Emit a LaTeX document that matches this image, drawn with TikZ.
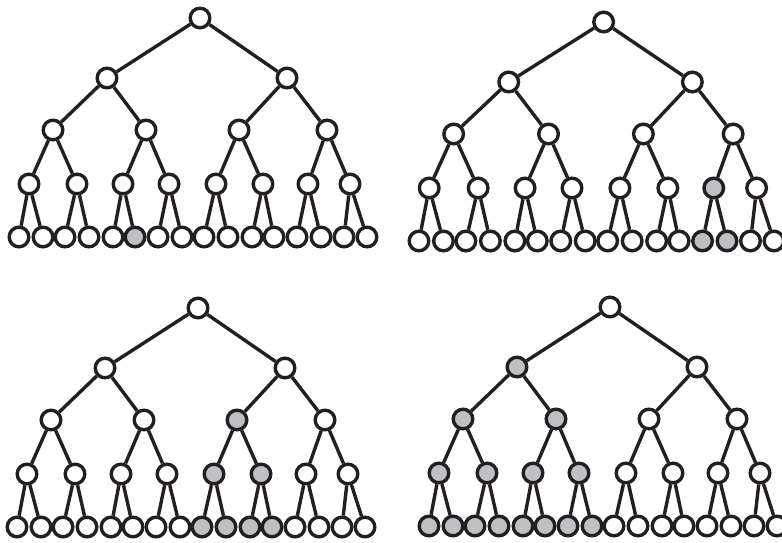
\documentclass[tikz,border=0pt]{standalone}
\definecolor{inkblack}{RGB}{35,31,32}
\definecolor{hitgray}{RGB}{190,192,196}
\usepackage{tikz}

\tikzset{
  vtx/.style={circle, draw=inkblack, fill=white, line width=3.4pt, minimum size=19.6pt, inner sep=0pt},
  edge/.style={draw=inkblack, line width=3.4pt},
  hits/.code={\foreach \h in {#1}{\expandafter\gdef\csname hit@\h\endcsname{}}},
  paint/.code={\ifcsname hit@#1\endcsname\pgfkeysalso{fill=hitgray}\fi},
}

% one binary tree, depth 4: #1 name, #2 scope options
\newcommand{\bintree}[2]{%
  \begin{scope}[#2]
    \node[vtx, paint=#1-0-0] (#1-0-0) at (200,18) {};
    \foreach \xx [count=\idx from 0] in {107,287}
      \node[vtx, paint=#1-1-\idx] (#1-1-\idx) at (\xx,78) {};
    \foreach \xx [count=\idx from 0] in {53,146,239,327}
      \node[vtx, paint=#1-2-\idx] (#1-2-\idx) at (\xx,130) {};
    \foreach \xx [count=\idx from 0] in {29,77,123,169,216,263,308,350}
      \node[vtx, paint=#1-3-\idx] (#1-3-\idx) at (\xx,184) {};
    \foreach \xx [count=\idx from 0] in {19,43,65,89,113,135,158,182,204,228,252,274,297,321,344,367}
      \node[vtx, paint=#1-4-\idx] (#1-4-\idx) at (\xx,237) {};
    % edges to parent
    \foreach \lev/\last in {1/1,2/3,3/7,4/15}
      \foreach \idx in {0,...,\last}{
        \pgfmathtruncatemacro{\up}{\lev-1}
        \pgfmathtruncatemacro{\pidx}{floor(\idx/2)}
        \draw[edge] (#1-\up-\pidx) -- (#1-\lev-\idx);
      }
  \end{scope}}

\begin{document}
\begin{tikzpicture}[x=1pt, y=-1pt]
  \useasboundingbox (0,0) rectangle (782,543);

  % Top row
  \bintree{A}{hits={A-4-5}}
  \bintree{B}{shift={(399.6,4)}, xscale=1.02, hits={B-3-6,B-4-12,B-4-13}}

  % Bottom row
  \bintree{C}{shift={(-2,290)}, hits={C-2-2,C-3-4,C-3-5,C-4-8,C-4-9,C-4-10,C-4-11}}
  \bintree{D}{shift={(410,289)}, hits={D-1-0,D-2-0,D-2-1,D-3-0,D-3-1,D-3-2,D-3-3,D-4-0,D-4-1,D-4-2,D-4-3,D-4-4,D-4-5,D-4-6,D-4-7}}
\end{tikzpicture}
\end{document}
